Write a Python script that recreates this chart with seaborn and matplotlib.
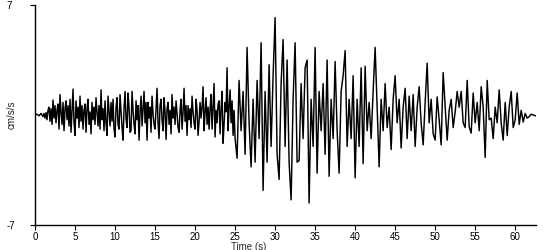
import numpy as np
import pandas as pd
import matplotlib
matplotlib.use("Agg")
import matplotlib.pyplot as plt
import seaborn as sns

# Acceleration samples (cm/s/s), grouped per second of record
# (each group holds the evenly spaced samples read within that second)
accel_by_second = [
    [0.0, 0.05, -0.05, 0.1],                               # 0
    [-0.1, 0.1, -0.2, 0.15, -0.3, 0.3, 0.5, -0.4],         # 1
    [0.4, -0.6, 0.95, -0.2, 0.6, -0.5, 0.3, 0.7],          # 2
    [-0.9, 1.3, 0.2, -0.6, 0.8, -1.0, 0.4, 0.9],           # 3
    [-0.3, 0.6, -0.7, 1.0, -1.1, 0.3, 1.65, -0.5],         # 4
    [-1.3, 0.9, -0.2, 0.5, -0.8, 1.2, -0.4, 0.6],          # 5
    [-0.9, 0.3, 0.7, -1.1, 0.4, 1.0, -0.6, 0.2],           # 6
    [-1.2, 0.8, -0.3, 0.5, -0.6, 1.1, 0.2, -0.7],          # 7
    [0.6, -0.9, 1.6, -0.3, 0.4, -1.0, 0.9, -0.5],          # 8
    [-1.3, 1.2, 0.3, -0.7, 0.8, -0.4, 1.0, -0.9],          # 9
    [-1.4, 0.5, 1.1, -0.6, -0.9, 1.3, 0.2, -0.8],          # 10
    [-1.6, 0.4, 1.5, -0.3, -0.8, 1.4, 0.5, -1.1],          # 11
    [-1.0, 1.5, 0.3, -0.6, -1.2, 0.9, -0.3, 0.6],          # 12
    [-1.6, 0.2, 1.2, -0.7, 0.4, 1.5, -0.5, 0.8],           # 13
    [-1.6, 0.8, -0.2, 0.5, -1.1, 1.2, 0.1, -0.6],          # 14
    [-0.9, 0.4, 1.7, -0.5, -1.5, 0.6, 1.0, -0.3],          # 15
    [-1.0, 1.1, 0.2, -1.55, 0.4, 0.8, -0.6, 0.3],          # 16
    [-1.2, 1.3, -0.2, 0.5, -0.6, 0.9, 0.1, -0.8],          # 17
    [-1.1, 0.3, 1.0, -0.9, 0.2, 1.7, -0.4, 0.6],           # 18
    [-1.3, 0.6, -0.3, 0.4, -0.8, 1.2, 0.2, -0.5],          # 19
    [-0.9, 1.0, 0.3, -1.3, -0.4, 0.8, -0.2, 0.5],          # 20
    [1.8, -1.0, 0.2, 1.1, -0.6, 0.5, -0.9, 0.4],           # 21
    [1.3, -0.9, 0.6, 2.0, -1.4, 0.3, -0.5, 0.7],           # 22
    [0.9, -1.2, 0.4, 1.5, -1.8, -0.6, 0.8, 0.2],           # 23
    [3.0, -1.0, 0.5, 1.6, -0.5, 0.9, -1.3, 0.3],           # 24
    [-1.5, -2.75, 2.2, -1.0],     # 25
    [1.5, -2.5, 4.3, -0.5],       # 26
    [-3.3, 1.0, -3.0, 2.2],       # 27
    [-1.5, 4.6, -4.8, 1.5],       # 28
    [-3.0, 3.2, -2.0, 2.5],       # 29
    [6.2, -2.5, -4.1, 2.0],       # 30
    [4.8, -2.0, 3.5, -3.0],       # 31
    [-5.4, 1.0, 4.6, -3.0],       # 32
    [-2.9, 2.0, -1.5, 3.0],       # 33
    [3.5, -5.6, 1.0, -2.0],       # 34
    [4.3, -3.7, 1.5, -1.0],       # 35
    [2.0, -2.5, 3.5, -3.9],       # 36
    [1.0, -1.5, 3.4, -1.0],       # 37
    [-3.7, 1.5, 2.5, 4.1],        # 38
    [-2.0, 1.0, -1.5, 2.5],       # 39
    [-4.0, 1.0, -2.0, 3.0],       # 40
    [-3.1, 3.1, -1.0, 0.8],       # 41
    [-1.5, 1.5, 4.3, 0.5],        # 42
    [-3.3, 1.0, -1.0, 2.0],       # 43
    [-0.8, 0.5, -2.2, 1.0],       # 44
    [2.5, -0.5, 1.0, -2.1],       # 45
    [0.5, 1.7, -1.5, 1.2],        # 46
    [-1.0, 1.3, -2.0, 0.5],       # 47
    [1.8, -0.5, -1.9, 0.8],       # 48
    [3.3, -0.5, 1.0, -1.2],       # 49
    [-1.6, 1.15, -0.3, -1.9],     # 50
    [2.7, 0.5, -1.6, 0.3],        # 51
    [1.0, -0.8, 0.2, 1.5],        # 52
    [0.5, 1.5, -0.5, -0.8],       # 53
    [2.2, -0.75, -1.15, 1.4],     # 54
    [-0.5, 0.8, -1.0, 1.8],       # 55
    [0.5, -2.7, 2.2, -0.3],       # 56
    [-0.2, -1.5, 0.5, -0.5],      # 57
    [1.6, -0.5, -1.6, 0.8],       # 58
    [-1.3, 0.5, 1.5, -0.8],       # 59
    [-0.3, 1.4, -0.6, 0.3],       # 60
    [-0.45, 0.1, -0.2, -0.1],     # 61
    [0.05, 0.0, -0.05, -0.05],    # 62
]
x_ticks = [0, 5, 10, 15, 20, 25, 30, 35, 40, 45, 50, 55, 60]
y_ticks = [-7, 7]
y_tick_labels = ["-7", "7"]
x_label = "Time (s)"
y_label = "cm/s/s"

time, accel = [], []
for sec, group in enumerate(accel_by_second):
    n = len(group)
    for k, v in enumerate(group):
        time.append(sec + k / n)
        accel.append(v)
df = pd.DataFrame({"time": time, "accel": accel})

sns.set_style("ticks")
plt.rcParams["font.family"] = ["Liberation Sans", "DejaVu Sans"]

fig = plt.figure(figsize=(5.5, 2.5), dpi=100)
ax = fig.add_axes([35 / 550, 25 / 250, 501 / 550, 220 / 250])

sns.lineplot(data=df, x="time", y="accel", color="black", linewidth=1.05,
             estimator=None, sort=False, ax=ax)

ax.set_xlim(0, 62.6)
ax.set_ylim(-7, 7)
ax.set_xticks(x_ticks)
ax.set_xticklabels([str(t) for t in x_ticks])
ax.set_yticks(y_ticks)
ax.set_yticklabels(y_tick_labels)
for s in ["top", "right"]:
    ax.spines[s].set_visible(False)
for s in ["left", "bottom"]:
    ax.spines[s].set_color("black")
    ax.spines[s].set_linewidth(1.0)
ax.tick_params(axis="x", length=3.6, width=0.8, pad=1.5, labelsize=7, colors="black")
ax.tick_params(axis="y", length=3.6, width=0.8, pad=17, labelsize=7, colors="black")
for lbl in ax.get_yticklabels():
    lbl.set_horizontalalignment("left")
ax.set_xlabel(x_label, fontsize=7)
ax.set_ylabel(y_label, fontsize=7)
ax.xaxis.set_label_coords(0.427, -0.075)
ax.yaxis.set_label_coords(-0.046, 0.5)
ax.yaxis.label.set_verticalalignment("center")

fig.savefig("out.png", dpi=100)
